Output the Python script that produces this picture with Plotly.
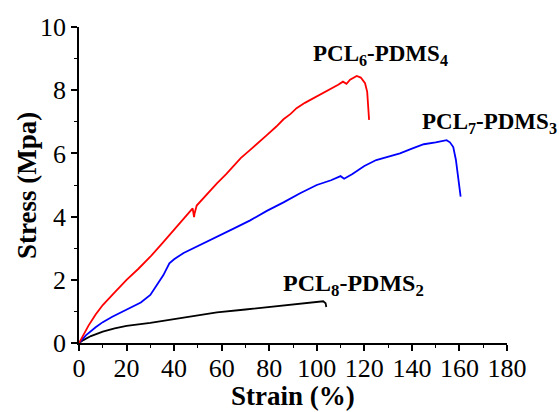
import plotly.graph_objects as go

# Strain (%) / Stress (MPa)
red_strain = [0, 2, 4, 7, 10, 15, 20, 25, 30, 35, 40, 44, 47.8, 48.4, 48.6, 49.5, 53, 58, 62, 65, 68, 72, 75, 79, 83, 86, 89,
              91.5, 95, 100, 103, 106, 109, 111, 112.5, 114, 115.5, 116.8, 118.5, 120.3, 121.2, 121.7, 122]
red_stress = [0, 0.3, 0.55, 0.9, 1.2, 1.6, 2.0, 2.35, 2.73, 3.15, 3.58, 3.95, 4.26, 3.98, 4.1, 4.35, 4.65, 5.05, 5.35, 5.6, 5.85, 6.11, 6.3, 6.58, 6.85, 7.08, 7.25,
              7.43, 7.6, 7.8, 7.93, 8.05, 8.17, 8.27, 8.2, 8.33, 8.4, 8.45, 8.4, 8.22, 7.95, 7.5, 7.06]

blue_strain = [0, 3, 7, 10, 14, 20, 26, 30, 33, 35.5, 38, 40, 44, 51, 58, 65, 72, 79, 86, 93, 100, 106, 110, 111.5,
               115, 120, 125, 130, 135, 140, 145, 150, 152, 154.6, 156, 157.4, 158.5, 159.5, 160.5]
blue_stress = [0, 0.25, 0.5, 0.66, 0.83, 1.05, 1.28, 1.52, 1.85, 2.15, 2.52, 2.65, 2.85, 3.1, 3.36, 3.62, 3.88, 4.18, 4.45, 4.74, 5.0, 5.15, 5.28, 5.2,
               5.35, 5.6, 5.79, 5.9, 6.0, 6.15, 6.29, 6.35, 6.38, 6.42, 6.35, 6.2, 5.8, 5.2, 4.63]

black_strain = [0, 2, 5, 10, 15, 20, 30, 40, 50, 58, 70, 80, 93, 101, 102.7, 103.7, 104]
black_stress = [0, 0.1, 0.22, 0.36, 0.46, 0.54, 0.64, 0.76, 0.86, 0.97, 1.06, 1.14, 1.26, 1.31, 1.32, 1.26, 1.14]

labels = ["<b>PCL<sub>6</sub>-PDMS<sub>4</sub></b>",
          "<b>PCL<sub>7</sub>-PDMS<sub>3</sub></b>",
          "<b>PCL<sub>8</sub>-PDMS<sub>2</sub></b>"]
label_x = [97.6, 143.6, 85.0]
label_y = [9.62, 7.47, 2.37]
label_size = [23, 23, 24]

x_title = "<b>Strain (%)</b>"
y_title = "<b>Stress (Mpa)</b>"

x_ticks = list(range(0, 181, 20))
y_ticks = list(range(0, 11, 2))

FONT = "Liberation Serif, Times New Roman, Times, serif"

fig = go.Figure()
fig.add_trace(go.Scatter(x=black_strain, y=black_stress, mode="lines",
                         line=dict(color="black", width=1.8), showlegend=False))
fig.add_trace(go.Scatter(x=blue_strain, y=blue_stress, mode="lines",
                         line=dict(color="#0000ff", width=1.8), showlegend=False))
fig.add_trace(go.Scatter(x=red_strain, y=red_stress, mode="lines",
                         line=dict(color="#ff0000", width=1.8), showlegend=False))

for t, xx, yy, sz in zip(labels, label_x, label_y, label_size):
    fig.add_annotation(x=xx, y=yy, xref="x", yref="y", text=t, showarrow=False,
                       xanchor="left", yanchor="top",
                       font=dict(family=FONT, size=sz, color="black"))

# axis titles
fig.add_annotation(x=0.5, y=-0.113, xref="paper", yref="paper", text=x_title, showarrow=False,
                   xanchor="center", yanchor="top", font=dict(family=FONT, size=27, color="black"))
fig.add_annotation(x=-0.1215, y=0.5, xref="paper", yref="paper", text=y_title, showarrow=False,
                   textangle=-90, xanchor="center", yanchor="middle",
                   font=dict(family=FONT, size=27, color="black"))

fig.update_layout(
    width=559, height=412,
    margin=dict(l=79, r=52, t=27, b=69, autoexpand=False),
    paper_bgcolor="white", plot_bgcolor="white",
    font=dict(family=FONT, color="black"),
)
fig.update_xaxes(range=[0, 180], tickvals=x_ticks, ticktext=[str(v) for v in x_ticks],
                 automargin=False, ticklabelstandoff=-5,
                 showgrid=False, zeroline=False, showline=True, linecolor="black", linewidth=1.5,
                 ticks="outside", ticklen=6, tickwidth=1.5, tickcolor="black",
                 minor=dict(ticks="outside", ticklen=3, tickwidth=1.2, tickcolor="black", dtick=10, tick0=0),
                 tickfont=dict(family=FONT, size=26))
fig.update_yaxes(range=[0, 10], tickvals=y_ticks, ticktext=[str(v) for v in y_ticks],
                 automargin=False,
                 showgrid=False, zeroline=False, showline=True, linecolor="black", linewidth=1.5,
                 ticks="outside", ticklen=6, tickwidth=1.5, tickcolor="black",
                 minor=dict(ticks="outside", ticklen=3, tickwidth=1.2, tickcolor="black", dtick=1, tick0=0),
                 tickfont=dict(family=FONT, size=26))

fig.write_html("out.html")
